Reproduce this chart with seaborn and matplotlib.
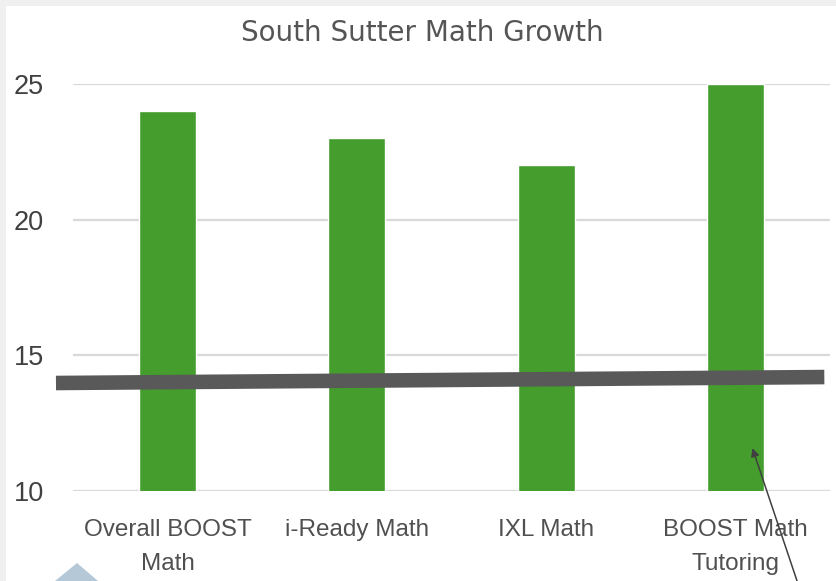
import numpy as np
import pandas as pd
import matplotlib
matplotlib.use("Agg")
import matplotlib.pyplot as plt
from matplotlib.patches import Rectangle, Polygon
import seaborn as sns

sns.set_theme(style="white")

# data
categories = ["Overall BOOST\nMath", "i-Ready Math", "IXL Math", "BOOST Math\nTutoring"]
growth = [24, 23, 22, 25]
y_ticks = [10, 15, 20, 25]
# the thick grey line drawn across the chart (left end, right end)
line_x = [-0.59, 3.47]
line_y = [13.98, 14.2]

sans = ["Liberation Sans", "DejaVu Sans"]

df = pd.DataFrame({"program": categories, "growth": growth})

fig = plt.figure(figsize=(8.36, 5.81), dpi=100, facecolor="#f0f0f0")
# white card, grey edge top and left like the screenshot
fig.patches.append(Rectangle((6 / 836, 0), 1, 1 - 6 / 581, transform=fig.transFigure,
                             facecolor="white", edgecolor="none", zorder=-10))

ax = fig.add_axes([73 / 836, 1 - 491 / 581, (830 - 73) / 836, (491 - 84) / 581])
ax.set_facecolor("none")
ax.set_zorder(2)

sns.barplot(data=df, x="program", y="growth", color="#449d2c", saturation=1,
            width=0.3, ax=ax, zorder=3)

ax.set_ylim(10, 25)
ax.set_xlim(-0.5, 3.5)
ax.set_yticks(y_ticks)
ax.yaxis.grid(True, color="#d9d9d9", linewidth=1.6, zorder=0)
ax.set_axisbelow(True)
for s in ax.spines.values():
    s.set_visible(False)

ax.set_xlabel("")
ax.set_ylabel("")
ax.tick_params(axis="y", length=0, pad=21, labelsize=19.5, labelcolor="#404040")
ax.tick_params(axis="x", length=0, pad=20, labelcolor="#505050")
for lab in ax.get_yticklabels():
    lab.set_family(sans)
for lab in ax.get_xticklabels():
    lab.set_family(sans)
    lab.set_fontsize(17.5)
    lab.set_linespacing(1.7)

ax.plot(line_x, line_y, color="#595959", linewidth=10.5, solid_capstyle="butt",
        clip_on=False, zorder=5)

ax.annotate("", xy=(3.09, 11.58), xytext=(3.33, 6.6), annotation_clip=False,
            arrowprops=dict(arrowstyle="-|>", color="#404040", lw=1.1,
                            mutation_scale=12, shrinkA=0, shrinkB=0))

fig.text(0.505, 1 - 33 / 581, "South Sutter Math Growth", ha="center", va="center",
         fontsize=20, color="#555555")

# faint logo corner at the bottom left
fig.patches.append(Polygon([(55 / 836, 0), (77 / 836, 1 - 563 / 581), (98 / 836, 0)],
                           closed=True, transform=fig.transFigure,
                           facecolor="#b4c8d8", edgecolor="none", zorder=1))

fig.savefig("out.png", dpi=100, facecolor=fig.get_facecolor())
